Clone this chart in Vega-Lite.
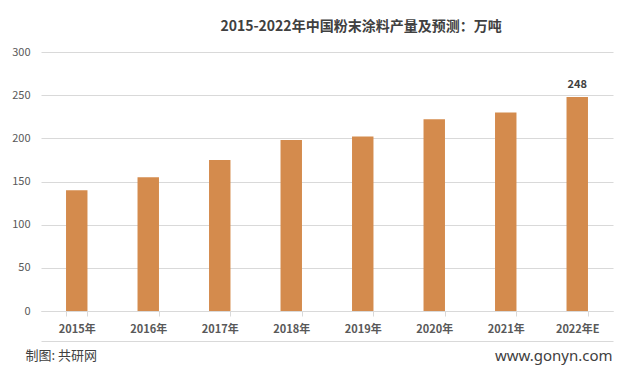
{
  "$schema": "https://vega.github.io/schema/vega-lite/v6.json",
  "width": 572,
  "height": 259,
  "autosize": {"type": "none"},
  "padding": {"left": 41, "top": 52, "right": 10, "bottom": 69},
  "background": "white",
  "config": {
    "font": "Noto Sans CJK SC",
    "view": {"stroke": null}
  },
  "title": {
    "text": "2015-2022年中国粉末涂料产量及预测：万吨",
    "anchor": "middle",
    "dx": 34,
    "offset": 12,
    "fontSize": 14,
    "fontWeight": "bold",
    "color": "#404040",
    "font": "Noto Sans CJK SC"
  },
  "data": {
    "values": [
      {"year": "2015年", "value": 140},
      {"year": "2016年", "value": 155},
      {"year": "2017年", "value": 175},
      {"year": "2018年", "value": 198},
      {"year": "2019年", "value": 202},
      {"year": "2020年", "value": 222},
      {"year": "2021年", "value": 230},
      {"year": "2022年E", "value": 248}
    ]
  },
  "layer": [
    {
      "mark": {"type": "bar", "color": "#D48B4D"},
      "encoding": {
        "x": {
          "field": "year",
          "type": "nominal",
          "sort": null,
          "scale": {"paddingInner": 0.7, "paddingOuter": 0.35},
          "axis": {
            "orient": "bottom",
            "labelAngle": 0,
            "labelFontSize": 11,
            "labelColor": "#595959",
            "labelFontWeight": "bold",
            "labelPadding": 7,
            "tickBand": "extent",
            "tickSize": 5,
            "tickColor": "#d9d9d9",
            "domainColor": "#d9d9d9",
            "grid": false,
            "title": "制图: 共研网",
            "titleAnchor": "start",
            "titleAlign": "left",
            "titleX": -16,
            "titleY": 44,
            "titleBaseline": "middle",
            "titleFontSize": 13,
            "titleFontWeight": "normal",
            "titleColor": "#404040"
          }
        },
        "y": {
          "field": "value",
          "type": "quantitative",
          "scale": {"domain": [0, 300]},
          "axis": {
            "values": [0, 50, 100, 150, 200, 250, 300],
            "domain": false,
            "ticks": false,
            "labelPadding": 11,
            "labelFontSize": 11,
            "labelColor": "#595959",
            "gridColor": "#d9d9d9",
            "title": "www.gonyn.com",
            "titleAngle": 0,
            "titleAlign": "right",
            "titleBaseline": "middle",
            "titleX": 571,
            "titleY": 303,
            "titleFontSize": 15,
            "titleFontWeight": "normal",
            "titleColor": "#404040",
            "titleFont": "Noto Sans"
          }
        }
      }
    },
    {
      "transform": [{"filter": "datum.year === '2022年E'"}],
      "mark": {"type": "text", "baseline": "bottom", "dy": -7, "fontSize": 11, "fontWeight": "bold", "color": "#404040"},
      "encoding": {
        "x": {
          "field": "year",
          "type": "nominal",
          "sort": null,
          "axis": {
            "orient": "bottom",
            "offset": 30,
            "labels": false,
            "ticks": false,
            "domain": true,
            "domainColor": "#d9d9d9",
            "domainWidth": 1,
            "grid": false,
            "title": null
          }
        },
        "y": {"field": "value", "type": "quantitative"},
        "text": {"field": "value", "type": "quantitative"}
      }
    }
  ],
  "resolve": {"axis": {"x": "independent"}}
}
